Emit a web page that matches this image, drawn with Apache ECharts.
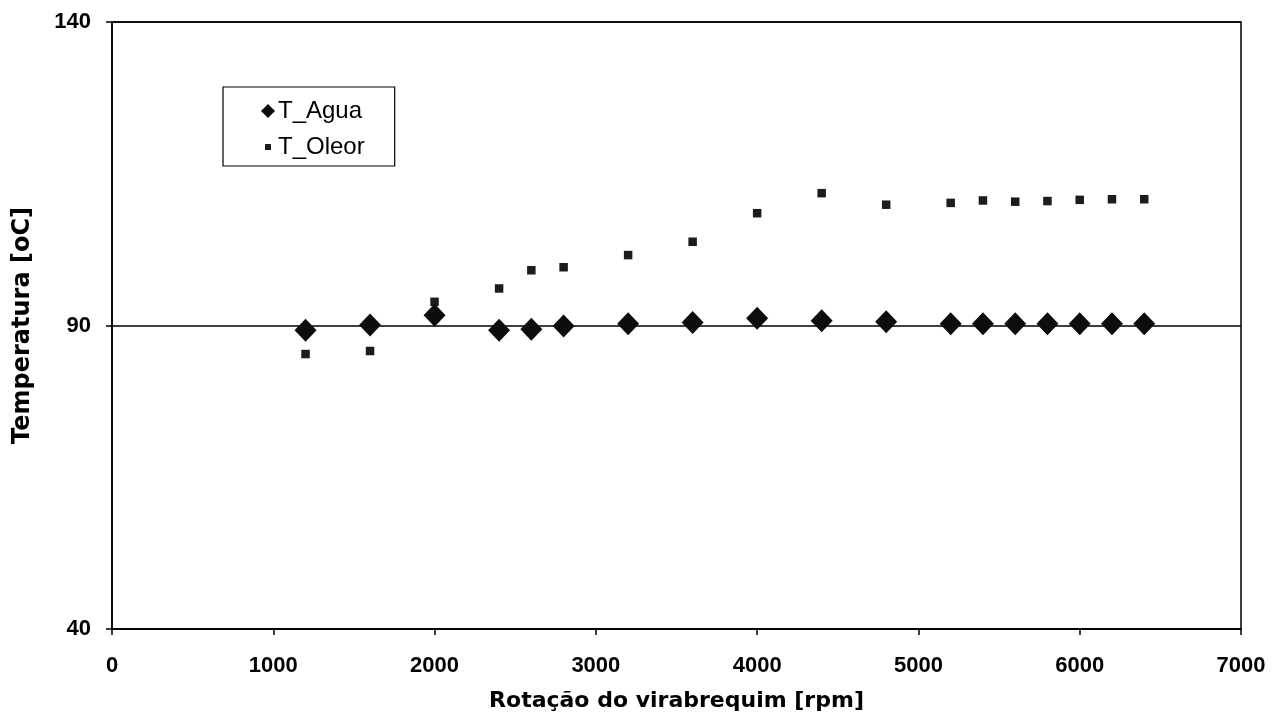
<!DOCTYPE html>
<html>
<head>
<meta charset="utf-8">
<title>Temperatura x Rotação</title>
<script src="https://cdn.jsdelivr.net/npm/echarts@6/dist/echarts.min.js"></script>
<style>
  html, body { margin: 0; padding: 0; background: #fff; }
  #chart { width: 1272px; height: 719px; }
</style>
</head>
<body>
<div id="chart"></div>
<script>
// Engine speed (rpm) for each measurement point
const rotacao = [1200, 1600, 2000, 2400, 2600, 2800, 3200, 3600, 4000, 4400, 4800, 5200, 5400, 5600, 5800, 6000, 6200, 6400];

// Coolant (water) temperature, °C
const tAgua = [89.2, 90.1, 91.7, 89.2, 89.4, 89.9, 90.3, 90.5, 91.2, 90.8, 90.6, 90.3, 90.3, 90.3, 90.3, 90.3, 90.3, 90.3];

// Oil temperature, °C
const tOleor = [85.3, 85.8, 93.9, 96.1, 99.1, 99.6, 101.6, 103.8, 108.5, 111.8, 109.9, 110.2, 110.6, 110.4, 110.5, 110.7, 110.8, 110.8];

// Axis ranges and tick steps
const xMin = 0, xMax = 7000, xStep = 1000;
const yMin = 40, yMax = 140, yStep = 50;

const FONT = "Arial, 'Liberation Sans', sans-serif";
const TITLE_FONT = "'DejaVu Sans', Arial, sans-serif";

function pairs(xs, ys) {
  return xs.map((x, i) => [x, ys[i]]);
}

// Small square centred inside a larger invisible box, so the legend icon stays small
const smallSquareIcon = 'path://M0,0L0,0M4,4L10,4L10,10L4,10Z M14,14L14,14';

const chart = echarts.init(document.getElementById('chart'), null, { renderer: 'canvas' });

chart.setOption({
  backgroundColor: '#ffffff',
  animation: false,
  grid: {
    left: 112,
    right: 31,
    top: 22,
    bottom: 90,
    show: true,
    borderColor: '#000',
    borderWidth: 1.5,
    backgroundColor: 'transparent'
  },
  legend: {
    orient: 'vertical',
    left: 223,
    top: 87,
    padding: [12, 30, 7, 38],
    itemGap: 12,
    itemWidth: 14,
    itemHeight: 14,
    borderColor: '#000',
    borderWidth: 1.2,
    backgroundColor: '#fff',
    textStyle: { fontFamily: FONT, fontSize: 24, color: '#000', lineHeight: 22, padding: [0, 0, 0, -2] },
    data: [
      { name: 'T_Agua', icon: 'diamond' },
      { name: 'T_Oleor', icon: smallSquareIcon }
    ]
  },
  xAxis: {
    type: 'value',
    min: xMin,
    max: xMax,
    interval: xStep,
    name: 'Rotação do virabrequim [rpm]',
    nameLocation: 'middle',
    nameGap: 61,
    nameTextStyle: { fontFamily: TITLE_FONT, fontSize: 22, fontWeight: 'bold', color: '#000' },
    axisLine: { show: true, onZero: false, lineStyle: { color: '#000', width: 1.5 } },
    axisTick: { show: true, inside: false, length: 6, lineStyle: { color: '#000', width: 1.5 } },
    axisLabel: {
      fontFamily: FONT, fontSize: 22, fontWeight: 'bold', color: '#000', margin: 26,
      formatter: (v) => String(v)
    },
    splitLine: { show: false }
  },
  yAxis: {
    type: 'value',
    min: yMin,
    max: yMax,
    interval: yStep,
    name: 'Temperatura [oC]',
    nameLocation: 'middle',
    nameGap: 77,
    nameTextStyle: { fontFamily: TITLE_FONT, fontSize: 24, fontWeight: 'bold', color: '#000' },
    axisLine: { show: true, lineStyle: { color: '#000', width: 1.5 } },
    axisTick: { show: true, inside: false, length: 6, lineStyle: { color: '#000', width: 1.5 } },
    axisLabel: {
      fontFamily: FONT, fontSize: 22, fontWeight: 'bold', color: '#000', margin: 21,
      formatter: (v) => String(v)
    },
    splitLine: { show: true, lineStyle: { color: '#000', width: 1.5 } }
  },
  series: [
    {
      name: 'T_Agua',
      type: 'scatter',
      symbol: 'diamond',
      symbolSize: [22, 23],
      itemStyle: { color: '#0d0d0d', opacity: 1 },
      data: pairs(rotacao, tAgua),
      z: 3
    },
    {
      name: 'T_Oleor',
      type: 'scatter',
      symbol: 'rect',
      symbolSize: 8.5,
      itemStyle: { color: '#1c1c1c', opacity: 1 },
      data: pairs(rotacao, tOleor),
      z: 2
    }
  ]
});
</script>
</body>
</html>
